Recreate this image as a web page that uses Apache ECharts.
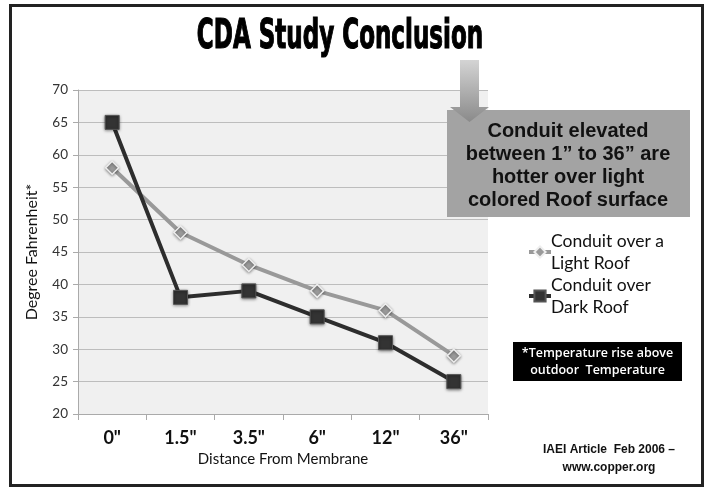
<!DOCTYPE html>
<html><head><meta charset="utf-8">
<script src="https://cdn.jsdelivr.net/npm/echarts@6/dist/echarts.min.js"></script>
<style>html,body{margin:0;padding:0;background:#fff}#c{width:707px;height:487px}</style>
</head><body><div id="c"></div>
<script>
const categories = ['0"', '1.5"', '3.5"', '6"', '12"', '36"'];
const lightRoof = [58, 48, 43, 39, 36, 29];
const darkRoof = [65, 38, 39, 35, 31, 25];
const seriesNames = ['Conduit over a Light Roof', 'Conduit over Dark Roof'];
const legendLabels = ['Conduit over a\nLight Roof', 'Conduit over\nDark Roof'];
const yTicks = {min: 20, max: 70, interval: 5};

const chart = echarts.init(document.getElementById('c'));
const font = 'Lato, "Open Sans", sans-serif';
chart.setOption({
  animation: false,
  backgroundColor: '#fff',
  grid: {left: 78, right: 219, top: 90, bottom: 73, show: true, backgroundColor: '#f0f0f0', borderWidth: 0},
  legend: {
    orient: 'vertical', left: 522, top: 225, itemWidth: 22, itemHeight: 14, itemGap: 0,
    data: seriesNames,
    lineStyle: {width: 4},
    formatter: n => legendLabels[seriesNames.indexOf(n)],
    textStyle: {fontFamily: font, fontSize: 17.5, color: '#111', lineHeight: 22, padding: [0, 0, 0, -5]}
  },
  xAxis: {
    type: 'category', data: categories, boundaryGap: true,
    name: 'Distance From Membrane', nameLocation: 'middle', nameGap: 38,
    nameTextStyle: {fontFamily: font, fontSize: 15, color: '#111'},
    axisLine: {lineStyle: {color: '#aaa'}},
    axisTick: {show: true, length: 6, lineStyle: {color: '#aaa'}},
    axisLabel: {fontFamily: font, fontSize: 18, fontWeight: 'bold', color: '#111', margin: 15}
  },
  yAxis: {
    type: 'value', min: yTicks.min, max: yTicks.max, interval: yTicks.interval,
    name: 'Degree Fahrenheit*', nameLocation: 'middle', nameGap: 38,
    nameTextStyle: {fontFamily: font, fontSize: 16, color: '#111'},
    axisLine: {show: true, lineStyle: {color: '#aaa'}},
    axisTick: {show: true, length: 5, lineStyle: {color: '#aaa'}},
    axisLabel: {fontFamily: font, fontSize: 13.5, color: '#333', margin: 10},
    splitLine: {lineStyle: {color: '#bdbdbd', width: 1}}
  },
  series: [
    {name: seriesNames[0], type: 'line', data: lightRoof, symbol: 'diamond', symbolSize: 13,
     lineStyle: {color: '#999', width: 4},
     itemStyle: {color: '#9a9a9a', borderColor: '#eee', borderWidth: 1.5, shadowColor: 'rgba(0,0,0,0.4)', shadowBlur: 3, shadowOffsetY: 1}},
    {name: seriesNames[1], type: 'line', data: darkRoof, symbol: 'rect', symbolSize: 14,
     lineStyle: {color: '#2d2d2d', width: 4},
     itemStyle: {color: '#333', borderColor: '#555', borderWidth: 1, shadowColor: 'rgba(0,0,0,0.5)', shadowBlur: 3, shadowOffsetY: 1}}
  ],
  graphic: [
    {type: 'rect', shape: {x: 10.5, y: 5.5, width: 692, height: 480}, style: {fill: 'none', stroke: '#222', lineWidth: 3}, z: 100},
    {type: 'text', x: 340, y: 38, scaleX: 0.64, scaleY: 1, originX: 0, originY: 0,
     style: {text: 'CDA Study Conclusion', font: 'bold 40px "DejaVu Sans Condensed", "DejaVu Sans"', fill: '#000', stroke: '#000', lineWidth: 1.2, align: 'center', verticalAlign: 'middle'}},
    {type: 'polygon', shape: {points: [[460, 60], [479, 60], [479, 107], [489, 107], [469.5, 122], [450, 107], [460, 107]]},
     style: {fill: new echarts.graphic.LinearGradient(0, 0, 0, 1, [{offset: 0, color: '#d4d4d4'}, {offset: 1, color: '#8a8a8a'}])}, z: 10},
    {type: 'rect', shape: {x: 447, y: 110, width: 243, height: 107}, style: {fill: '#a3a3a3'}, z: 9},
    {type: 'text', x: 568, y: 166, z: 11,
     style: {text: 'Conduit elevated\nbetween 1\u201d to 36\u201d are\nhotter over light\ncolored Roof surface', font: 'bold 20px "Liberation Sans", Arial', fill: '#111', align: 'center', verticalAlign: 'middle', lineHeight: 23}},
    {type: 'rect', shape: {x: 513, y: 342, width: 169, height: 39}, style: {fill: '#000'}, z: 10},
    {type: 'text', x: 597.5, y: 362, z: 11,
     style: {text: '*Temperature rise above\noutdoor  Temperature', font: '600 12.5px "Open Sans", sans-serif', fill: '#fff', align: 'center', verticalAlign: 'middle', lineHeight: 17}},
    {type: 'text', x: 609, y: 459,
     style: {text: 'IAEI Article  Feb 2006 \u2013\nwww.copper.org', font: 'bold 12px "Liberation Sans", Arial', fill: '#111', align: 'center', verticalAlign: 'middle', lineHeight: 18}}
  ]
});
</script></body></html>
